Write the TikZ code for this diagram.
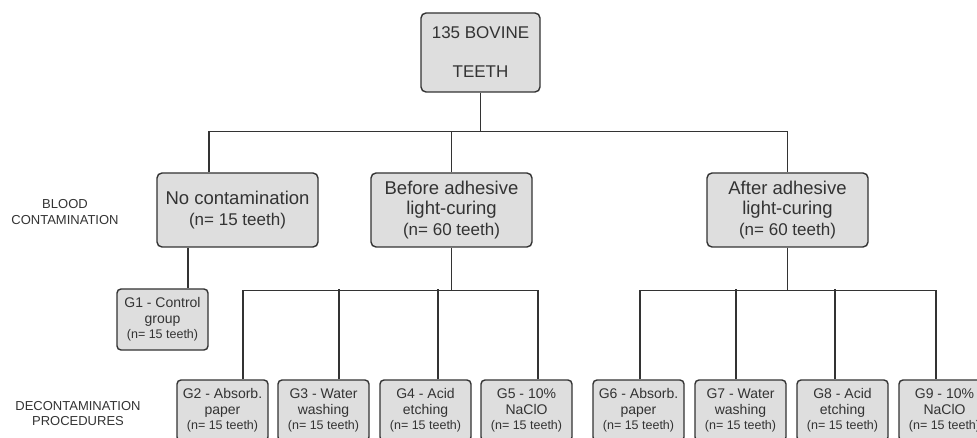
\documentclass[tikz,border=0pt]{standalone}
\usepackage{fontspec}
\setmainfont{Liberation Sans}
\usetikzlibrary{positioning,calc}
\definecolor{boxgray}{HTML}{DEDEDE}
\definecolor{inkgray}{HTML}{333333}
\tikzset{
  rootbox/.style={draw=inkgray, fill=boxgray, rounded corners=5pt, line width=1.4pt, align=center, text=inkgray, inner sep=0pt, minimum width=119pt, minimum height=79pt, font=\fontsize{17}{39}\selectfont},
  armbox/.style={draw=inkgray, fill=boxgray, rounded corners=5pt, line width=1.4pt, align=center, text=inkgray, inner sep=0pt, minimum width=161pt, minimum height=74pt, font=\fontsize{18.5}{20.5}\selectfont},
  grpbox/.style={draw=inkgray, fill=boxgray, rounded corners=4pt, line width=1.4pt, align=center, text=inkgray, inner sep=0pt, minimum width=91pt, minimum height=61pt, font=\fontsize{14}{15.5}\selectfont},
  sidelabel/.style={align=center, text=inkgray, font=\fontsize{13}{15.5}\selectfont},
  treeline/.style={draw=inkgray, line width=1.3pt}
}
\newcommand{\nline}[1]{\fontsize{12.5}{15.5}\selectfont (n= #1 teeth)}

\begin{document}
\begin{tikzpicture}[x=1pt, y=1pt]
  \useasboundingbox (0,0) rectangle (977,-438);
  \clip (0,0) rectangle (977,-438);

  % side labels
  \node[sidelabel] (bloodlbl) at (65,-212) {BLOOD\\CONTAMINATION};
  \node[sidelabel] (decolbl) at (78,-413.5) {DECONTAMINATION\\PROCEDURES};

  \node[rootbox] (root) at (480.5,-52.5) {135 BOVINE\\TEETH};

  \node[armbox] (nocont) at (237.5,-210) {No contamination\\\fontsize{17}{20.5}\selectfont (n= 15 teeth)};
  \node[armbox] (before) at (451.5,-210) {Before adhesive\\light-curing\\\fontsize{17}{20.5}\selectfont (n= 60 teeth)};
  \node[armbox] (after) at (787.5,-210) {After adhesive\\light-curing\\\fontsize{17}{20.5}\selectfont (n= 60 teeth)};

  \node[grpbox] (g1) at (162.5,-319.5) {G1 - Control\\group\\\nline{15}};

  \node[grpbox] (g2) at (222.5,-410.5) {G2 - Absorb.\\paper\\\nline{15}};
  \node[grpbox] (g3) at (323.5,-410.5) {G3 - Water\\washing\\\nline{15}};
  \node[grpbox] (g4) at (425.5,-410.5) {G4 - Acid\\etching\\\nline{15}};
  \node[grpbox] (g5) at (526.5,-410.5) {G5 - 10\%\\NaClO\\\nline{15}};
  \node[grpbox] (g6) at (638.5,-410.5) {G6 - Absorb.\\paper\\\nline{15}};
  \node[grpbox] (g7) at (740.5,-410.5) {G7 - Water\\washing\\\nline{15}};
  \node[grpbox] (g8) at (842.5,-410.5) {G8 - Acid\\etching\\\nline{15}};
  \node[grpbox] (g9) at (944.5,-410.5) {G9 - 10\%\\NaClO\\\nline{15}};

  % first split
  \draw[treeline] (root.south) -- ++(0,-39) coordinate (split1);
  \draw[treeline] ([xshift=-28.5pt]nocont.north) |- (split1) -| (after.north);
  \draw[treeline] (before.north) -- (before.north |- split1);

  % control group
  \draw[treeline] ([xshift=-49.5pt]nocont.south) -- ([xshift=25.5pt]g1.north);

  % before light-curing
  \draw[treeline] (before.south) -- ++(0,-43) coordinate (split2);
  \draw[treeline] ([xshift=20.5pt]g2.north) |- (split2) -| ([xshift=11.5pt]g5.north);
  \foreach \g/\dx in {g3/15.5, g4/12.5}
    \draw[treeline] ([xshift=\dx pt]\g.north) -- ++(0,90);

  % after light-curing
  \draw[treeline] (after.south) -- ++(0,-43) coordinate (split3);
  \draw[treeline] ([xshift=1.5pt]g6.north) |- (split3) -| ([xshift=-8.5pt]g9.north);
  \foreach \g/\dx in {g7/-4.5, g8/-7.5}
    \draw[treeline] ([xshift=\dx pt]\g.north) -- ++(0,90);
\end{tikzpicture}
\end{document}
